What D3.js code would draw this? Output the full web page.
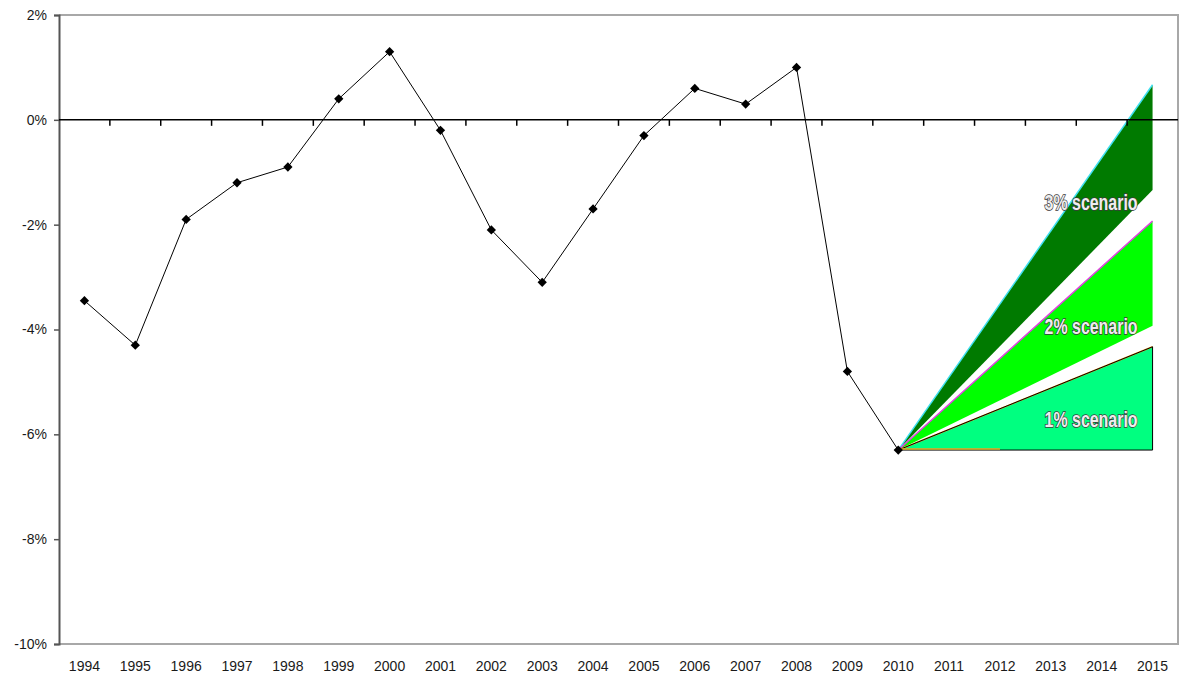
<!DOCTYPE html>
<html>
<head>
<meta charset="utf-8">
<script src="https://cdn.jsdelivr.net/npm/d3@7"></script>
<style>
  body { margin: 0; background: #fff; }
  text { font-family: "Liberation Sans", Arial, sans-serif; }
</style>
</head>
<body>
<div id="chart"></div>
<script>
'use strict';

// years on the x axis
const years = ['1994','1995','1996','1997','1998','1999','2000','2001','2002','2003','2004',
  '2005','2006','2007','2008','2009','2010','2011','2012','2013','2014','2015'];

// actual values, 1994-2010 (%)
const actualYears = years.slice(0, 17);
const actual = [-3.45, -4.3, -1.9, -1.2, -0.9, 0.4, 1.3, -0.2, -2.1, -3.1, -1.7,
  -0.3, 0.6, 0.3, 1.0, -4.8, -6.3];

// scenario bands from 2010 to 2015 (%)
const scenarioYears = ['2010', '2015'];
const scenarioNames = ['3% scenario', '2% scenario', '1% scenario'];
const scenarioUpper = [[-6.3, 0.67], [-6.3, -1.93], [-6.3, -4.33]];
const scenarioLower = [[-6.3, -1.34], [-6.3, -3.93], [-6.3, -6.3]];
const scenarioFill = ['#007a00', '#00ff00', '#00ff80'];
const scenarioEdge = ['#40e0f0', '#e040e0', '#f0a020'];
const labelBase = [-1.72, -4.08, -5.86];

const yTicks = [2, 0, -2, -4, -6, -8, -10];

const W = 1187, H = 684;
const m = { left: 59, right: 9, top: 15, bottom: 40 };

const svg = d3.select('#chart').append('svg')
  .attr('width', W).attr('height', H);

const x = d3.scaleBand().domain(years).range([m.left, W - m.right]);
const xc = d => x(d) + x.bandwidth() / 2;
const y = d3.scaleLinear().domain([-10, 2]).range([H - m.bottom, m.top]);

// plot frame (top / right / bottom grey)
svg.append('path')
  .attr('d', `M${m.left},${m.top}H${W - m.right}V${H - m.bottom}H${m.left}`)
  .attr('fill', 'none').attr('stroke', '#a8a8a8').attr('stroke-width', 2);

// scenario areas
scenarioNames.forEach((name, i) => {
  const pts = scenarioYears.map((yr, j) => ({ yr, hi: scenarioUpper[i][j], lo: scenarioLower[i][j] }));
  const area = d3.area().x(d => xc(d.yr)).y0(d => y(d.lo)).y1(d => y(d.hi));
  svg.append('path').datum(pts).attr('d', area).attr('fill', scenarioFill[i]);
  const hiLine = d3.line().x(d => xc(d.yr)).y(d => y(d.hi));
  svg.append('path').datum(pts).attr('d', hiLine)
    .attr('fill', 'none').attr('stroke', scenarioEdge[i]).attr('stroke-width', 1.5);
});
// 1% band outline
{
  const pts = scenarioYears.map((yr, j) => ({ yr, hi: scenarioUpper[2][j], lo: scenarioLower[2][j] }));
  const last = pts[pts.length - 1];
  svg.append('path')
    .attr('d', `M${xc(pts[0].yr)},${y(pts[0].hi)}L${xc(last.yr)},${y(last.hi)}V${y(last.lo)}H${xc(pts[0].yr)}`)
    .attr('fill', 'none').attr('stroke', '#000').attr('stroke-width', 1);
  svg.append('line')
    .attr('x1', xc(pts[0].yr)).attr('x2', xc('2012'))
    .attr('y1', y(pts[0].lo) - 1).attr('y2', y(pts[0].lo) - 1)
    .attr('stroke', scenarioEdge[2]).attr('stroke-width', 1.5);
}

// y axis
const yAxis = svg.append('g').attr('transform', `translate(${m.left},0)`)
  .call(d3.axisLeft(y).tickValues(yTicks).tickSize(5).tickPadding(7).tickFormat(d => d + '%'));
yAxis.select('.domain').attr('stroke', '#555').attr('stroke-width', 2);
yAxis.selectAll('.tick line').attr('stroke', '#555').attr('stroke-width', 1.5);
yAxis.selectAll('.tick text').attr('font-size', 14).attr('fill', '#1a1a1a');

// zero axis with category ticks
const zero = svg.append('g').attr('transform', `translate(0,${y(0)})`);
zero.append('line').attr('x1', m.left).attr('x2', W - m.right)
  .attr('stroke', '#000').attr('stroke-width', 1.5);
zero.selectAll('line.t').data(years.slice(1)).join('line').attr('class', 't')
  .attr('x1', d => x(d)).attr('x2', d => x(d)).attr('y1', 0).attr('y2', 6)
  .attr('stroke', '#000').attr('stroke-width', 1.5);

// x labels
svg.append('g').selectAll('text').data(years).join('text')
  .attr('x', d => xc(d)).attr('y', H - m.bottom + 27)
  .attr('text-anchor', 'middle').attr('font-size', 14).attr('fill', '#1a1a1a')
  .text(d => d);

// actual line
const pts = actualYears.map((yr, i) => ({ yr, v: actual[i] }));
svg.append('path').datum(pts)
  .attr('d', d3.line().x(d => xc(d.yr)).y(d => y(d.v)))
  .attr('fill', 'none').attr('stroke', '#000').attr('stroke-width', 1);
svg.append('g').selectAll('path').data(pts).join('path')
  .attr('d', d3.symbol(d3.symbolDiamond2, 55))
  .attr('transform', d => `translate(${xc(d.yr)},${y(d.v)})`)
  .attr('fill', '#000');

// scenario labels
scenarioNames.forEach((name, i) => {
  svg.append('text')
    .attr('x', xc('2015') - 15).attr('y', y(labelBase[i]))
    .attr('text-anchor', 'end')
    .attr('font-size', 22).attr('font-weight', 'bold')
    .attr('fill', '#eeeeee').attr('stroke', '#3a3a3a').attr('stroke-width', 1.6)
    .attr('paint-order', 'stroke')
    .attr('textLength', 93).attr('lengthAdjust', 'spacingAndGlyphs')
    .text(name);
});
</script>
</body>
</html>
